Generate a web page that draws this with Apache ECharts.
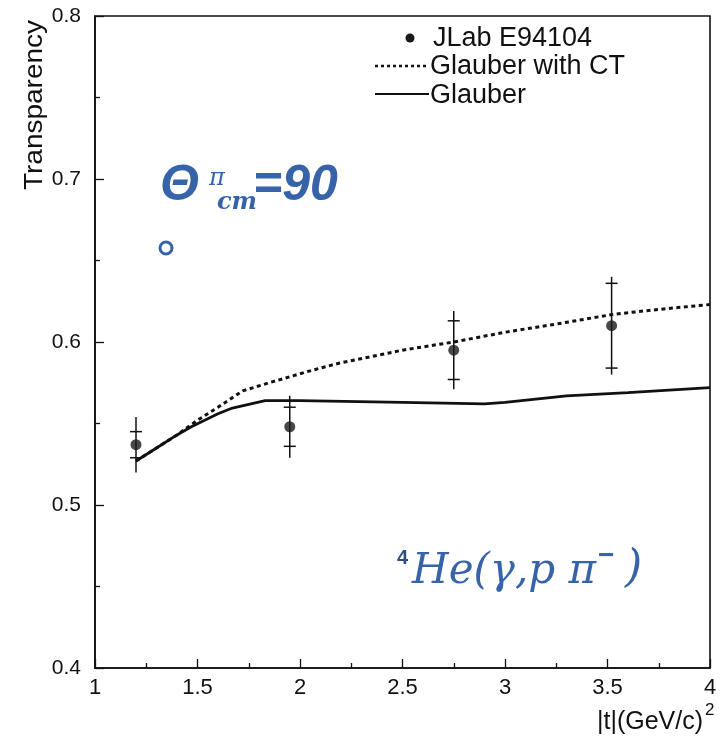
<!DOCTYPE html>
<html>
<head>
<meta charset="utf-8">
<script src="https://cdn.jsdelivr.net/npm/echarts@6/dist/echarts.min.js"></script>
<style>
html,body{margin:0;padding:0;background:#fff;}
#chart{width:722px;height:739px;}
</style>
</head>
<body>
<div id="chart"></div>
<script>
// ---- data ----
const xTicks = [1, 1.5, 2, 2.5, 3, 3.5, 4];
const yTicks = [0.4, 0.5, 0.6, 0.7, 0.8];

const dataX = [1.20, 1.95, 2.75, 3.52];
const dataY = [0.537, 0.548, 0.595, 0.610];
const statErr = [0.008, 0.012, 0.018, 0.026];
const totErr = [0.017, 0.019, 0.024, 0.030];

const ctX = [1.2, 1.3, 1.4, 1.5, 1.6, 1.72, 1.85, 2.04, 2.19, 2.5, 2.75, 3.0, 3.25, 3.53, 3.75, 4.0];
const ctY = [0.527, 0.535, 0.543, 0.552, 0.560, 0.570, 0.575, 0.582, 0.587, 0.595, 0.600, 0.606, 0.611, 0.617, 0.620, 0.623];

const glX = [1.2, 1.3, 1.4, 1.47, 1.6, 1.67, 1.83, 2.0, 2.5, 2.9, 3.0, 3.3, 3.6, 4.0];
const glY = [0.527, 0.535, 0.543, 0.548, 0.556, 0.5595, 0.564, 0.564, 0.563, 0.562, 0.563, 0.567, 0.569, 0.572];

const seriesNames = ['JLab E94104', 'Glauber with CT', 'Glauber'];

// ---- build ----
const pts = dataX.map((x, i) => [x, dataY[i]]);
const errData = dataX.map((x, i) => [x, dataY[i], statErr[i], totErr[i]]);
const ctData = ctX.map((x, i) => [x, ctY[i]]);
const glData = glX.map((x, i) => [x, glY[i]]);

const ink = '#111';
const blue = '#3763a9';
const font = 'Liberation Sans, Arial, Helvetica, sans-serif';

const chart = echarts.init(document.getElementById('chart'), null, {renderer: 'canvas'});

const option = {
  backgroundColor: '#fff',
  animation: false,
  grid: {left: 95, right: 12, top: 16, bottom: 71, show: true, borderColor: ink, borderWidth: 1.6, backgroundColor: 'transparent'},
  xAxis: {
    type: 'value', min: xTicks[0], max: xTicks[xTicks.length - 1], interval: 0.5,
    axisLine: {show: true, lineStyle: {color: ink, width: 1.6}},
    axisTick: {show: true, inside: true, length: 9, lineStyle: {color: ink, width: 1.3}},
    minorTick: {show: true, splitNumber: 2, length: 5, lineStyle: {color: ink, width: 1.3}},
    splitLine: {show: false},
    axisLabel: {color: ink, fontSize: 22, fontFamily: font, margin: 9}
  },
  yAxis: {
    type: 'value', min: yTicks[0], max: yTicks[yTicks.length - 1], interval: 0.1,
    axisLine: {show: true, lineStyle: {color: ink, width: 1.6}},
    axisTick: {show: true, inside: true, length: 9, lineStyle: {color: ink, width: 1.3}},
    minorTick: {show: true, splitNumber: 2, length: 5, lineStyle: {color: ink, width: 1.3}},
    splitLine: {show: false},
    axisLabel: {color: ink, fontSize: 21, fontFamily: font, margin: 14}
  },
  series: [
    {
      name: seriesNames[1], type: 'line', data: ctData, showSymbol: false, symbol: 'none',
      lineStyle: {color: ink, width: 3, type: [4, 3.5]}, z: 3
    },
    {
      name: seriesNames[2], type: 'line', data: glData, showSymbol: false, symbol: 'none',
      lineStyle: {color: ink, width: 2.8, type: 'solid'}, z: 3
    },
    {
      name: seriesNames[0] + ' errors', type: 'custom', data: errData, z: 4,
      renderItem: function (params, api) {
        const x = api.value(0), y = api.value(1), s = api.value(2), t = api.value(3);
        const top = api.coord([x, y + t]);
        const bot = api.coord([x, y - t]);
        const sTop = api.coord([x, y + s]);
        const sBot = api.coord([x, y - s]);
        const hw = 6;
        const st = {stroke: ink, lineWidth: 1.5};
        return {
          type: 'group',
          children: [
            {type: 'line', shape: {x1: top[0], y1: top[1], x2: bot[0], y2: bot[1]}, style: st},
            {type: 'line', shape: {x1: sTop[0] - hw, y1: sTop[1], x2: sTop[0] + hw, y2: sTop[1]}, style: st},
            {type: 'line', shape: {x1: sBot[0] - hw, y1: sBot[1], x2: sBot[0] + hw, y2: sBot[1]}, style: st}
          ]
        };
      }
    },
    {
      name: seriesNames[0], type: 'scatter', data: pts, symbol: 'circle', symbolSize: 11,
      itemStyle: {color: '#1a1a1a'}, z: 5
    }
  ],
  graphic: [
    // y axis title
    {type: 'text', x: 35, y: 105, rotation: Math.PI / 2, scaleX: 1.12,
      style: {text: 'Transparency', font: '25px ' + font, fill: ink, align: 'center', verticalAlign: 'middle'}},
    // x axis title
    {type: 'text', x: 703, y: 722,
      style: {text: '|t|(GeV/c)', font: '25px ' + font, fill: ink, align: 'right', verticalAlign: 'middle'}},
    {type: 'text', x: 705, y: 710,
      style: {text: '2', font: '17px ' + font, fill: ink, align: 'left', verticalAlign: 'middle'}},
    // legend
    {type: 'circle', shape: {cx: 410, cy: 38, r: 4.5}, style: {fill: '#1a1a1a'}},
    {type: 'text', x: 433, y: 39, style: {text: seriesNames[0], font: '27px ' + font, fill: ink, align: 'left', verticalAlign: 'middle'}},
    {type: 'line', shape: {x1: 375, y1: 66, x2: 429, y2: 66}, style: {stroke: ink, lineWidth: 2.5, lineDash: [3, 3]}},
    {type: 'text', x: 430, y: 67, style: {text: seriesNames[1], font: '27px ' + font, fill: ink, align: 'left', verticalAlign: 'middle'}},
    {type: 'line', shape: {x1: 375, y1: 94, x2: 429, y2: 94}, style: {stroke: ink, lineWidth: 2.2}},
    {type: 'text', x: 430, y: 96, style: {text: seriesNames[2], font: '27px ' + font, fill: ink, align: 'left', verticalAlign: 'middle'}},
    // blue annotations
    {type: 'text', x: 160, y: 186, style: {text: 'Θ', font: 'italic bold 50px ' + font, fill: blue, align: 'left', verticalAlign: 'middle'}},
    {type: 'text', x: 209, y: 179, style: {text: 'π', font: 'italic 24px DejaVu Serif, serif', fill: blue, align: 'left', verticalAlign: 'middle'}},
    {type: 'text', x: 217, y: 203, style: {text: 'cm', font: 'italic bold 24px DejaVu Serif, serif', fill: blue, align: 'left', verticalAlign: 'middle'}},
    {type: 'text', x: 253, y: 186, style: {text: '=90', font: 'italic bold 50px ' + font, fill: blue, align: 'left', verticalAlign: 'middle'}},
    {type: 'circle', shape: {cx: 166, cy: 248, r: 6}, style: {fill: 'none', stroke: blue, lineWidth: 3}},
    {type: 'text', x: 397, y: 558, style: {text: '4', font: 'bold 20px ' + font, fill: '#2c4f7f', align: 'left', verticalAlign: 'middle'}},
    {type: 'text', x: 412, y: 572, style: {text: 'He(γ,p π', font: 'italic 42px DejaVu Serif, serif', fill: blue, align: 'left', verticalAlign: 'middle'}},
    {type: 'text', x: 598, y: 556, style: {text: '−', font: 'bold 28px ' + font, fill: blue, align: 'left', verticalAlign: 'middle'}},
    {type: 'text', x: 625, y: 570, style: {text: ')', font: 'italic 44px DejaVu Serif, serif', fill: blue, align: 'left', verticalAlign: 'middle'}}
  ]
};
chart.setOption(option);
</script>
</body>
</html>
